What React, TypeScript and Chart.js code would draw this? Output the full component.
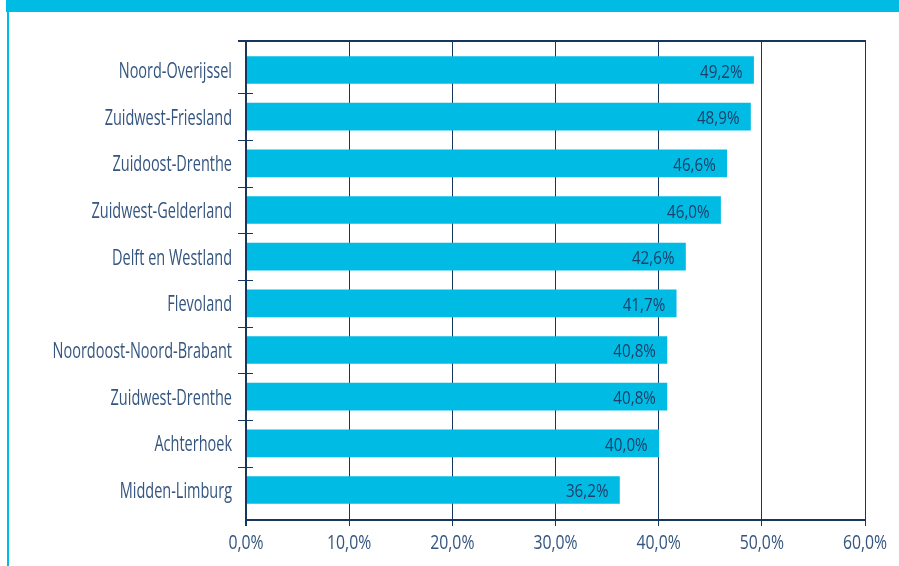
import React, { useEffect, useRef } from "react";
import { Chart, registerables } from "chart.js";

Chart.register(...registerables);

const categories = [
  "Noord-Overijssel",
  "Zuidwest-Friesland",
  "Zuidoost-Drenthe",
  "Zuidwest-Gelderland",
  "Delft en Westland",
  "Flevoland",
  "Noordoost-Noord-Brabant",
  "Zuidwest-Drenthe",
  "Achterhoek",
  "Midden-Limburg",
];
const values = [49.2, 48.9, 46.6, 46.0, 42.6, 41.7, 40.8, 40.8, 40.0, 36.2];
const xTicks = [0, 10, 20, 30, 40, 50, 60];

const CYAN = "#00bce4";
const NAVY = "#17365d";
const TEXT = "#34557f";
const LABEL_TEXT = "#1f3f6a";
const FONT = "'Open Sans', 'Noto Sans', sans-serif";

const fmt = (v: number) => v.toFixed(1).replace(".", ",") + "%";

function squeezedText(
  ctx: CanvasRenderingContext2D,
  text: string,
  x: number,
  y: number,
  sx: number,
  align: "left" | "right" | "center"
) {
  ctx.save();
  ctx.translate(x, y);
  ctx.scale(sx, 1);
  ctx.textAlign = align;
  ctx.textBaseline = "alphabetic";
  ctx.fillText(text, 0, 0);
  ctx.restore();
}

const framePlugin = {
  id: "frame",
  beforeDraw(chart: any) {
    const ctx = chart.ctx;
    ctx.save();
    ctx.fillStyle = CYAN;
    ctx.fillRect(6, 0, 893, 12);
    ctx.fillRect(7, 12, 2, 554);
    ctx.restore();
  },
  afterDraw(chart: any) {
    const ctx = chart.ctx;
    const { left, right, top, bottom } = chart.chartArea;
    const y = chart.scales.y;
    const x = chart.scales.x;
    ctx.save();
    ctx.strokeStyle = NAVY;
    ctx.lineWidth = 2;
    ctx.beginPath();
    ctx.moveTo(left - 8, top + 1);
    ctx.lineTo(right, top + 1);
    ctx.stroke();
    ctx.beginPath();
    ctx.moveTo(left, top);
    ctx.lineTo(left, bottom + 6);
    ctx.stroke();
    ctx.beginPath();
    ctx.moveTo(left, bottom);
    ctx.lineTo(right, bottom);
    ctx.stroke();
    ctx.lineWidth = 1;
    for (let i = 0; i < categories.length - 1; i++) {
      const py = Math.round(y.getPixelForValue(i + 0.5)) + 0.5;
      ctx.beginPath();
      ctx.moveTo(left - 8, py);
      ctx.lineTo(left + 7, py);
      ctx.stroke();
    }
    // category labels
    ctx.fillStyle = TEXT;
    ctx.font = `21px ${FONT}`;
    categories.forEach((c, i) => {
      const py = y.getPixelForValue(i);
      squeezedText(ctx, c, left - 14, py + 8, 0.69, "right");
    });
    // x tick labels
    ctx.font = `20.5px ${FONT}`;
    xTicks.forEach((v) => {
      const px = x.getPixelForValue(v);
      squeezedText(ctx, fmt(v), px, bottom + 29, 0.77, "center");
    });
    ctx.restore();
  },
  afterDatasetsDraw(chart: any) {
    const ctx = chart.ctx;
    const meta = chart.getDatasetMeta(0);
    ctx.save();
    ctx.fillStyle = LABEL_TEXT;
    ctx.font = `19px ${FONT}`;
    meta.data.forEach((bar: any, i: number) => {
      squeezedText(ctx, fmt(values[i]), bar.x - 11, bar.y + 7.5, 0.8, "right");
    });
    ctx.restore();
  },
};

export default function App() {
  const ref = useRef<HTMLCanvasElement>(null);
  useEffect(() => {
    if (!ref.current) return;
    const chart = new Chart(ref.current, {
      type: "bar",
      data: {
        datasets: [
          {
            data: values.map((v, i) => ({ x: v, y: i })),
            backgroundColor: CYAN,
            borderWidth: 0,
            barThickness: 27,
          },
        ],
      },
      options: {
        indexAxis: "y",
        animation: false,
        responsive: false,
        maintainAspectRatio: false,
        layout: { padding: { top: 40, right: 34, left: 0, bottom: 0 } },
        plugins: { legend: { display: false }, tooltip: { enabled: false } },
        scales: {
          x: {
            type: "linear",
            min: 0,
            max: 60,
            offset: false,
            afterBuildTicks: (s: any) => {
              s.ticks = xTicks.map((v) => ({ value: v }));
            },
            afterFit: (s: any) => {
              s.height = 46;
            },
            grid: {
              display: true,
              color: NAVY,
              lineWidth: 1,
              tickLength: 6,
              drawOnChartArea: true,
              offset: false,
            },
            border: { display: false },
            ticks: { display: false },
          },
          y: {
            type: "linear",
            reverse: true,
            offset: false,
            min: -0.643,
            max: 9.643,
            afterBuildTicks: (s: any) => {
              s.ticks = categories.map((_, i) => ({ value: i }));
            },
            afterFit: (s: any) => {
              s.width = 246;
            },
            grid: { display: false, drawTicks: false, offset: false },
            border: { display: false },
            ticks: { display: false },
          },
        },
      },
      plugins: [framePlugin],
    } as any);
    return () => chart.destroy();
  }, []);
  return (
    <div style={{ position: "fixed", left: 0, top: 0, width: 899, height: 566, background: "#fff" }}>
      <canvas ref={ref} width={899} height={566} style={{ width: 899, height: 566, display: "block" }} />
    </div>
  );
}
